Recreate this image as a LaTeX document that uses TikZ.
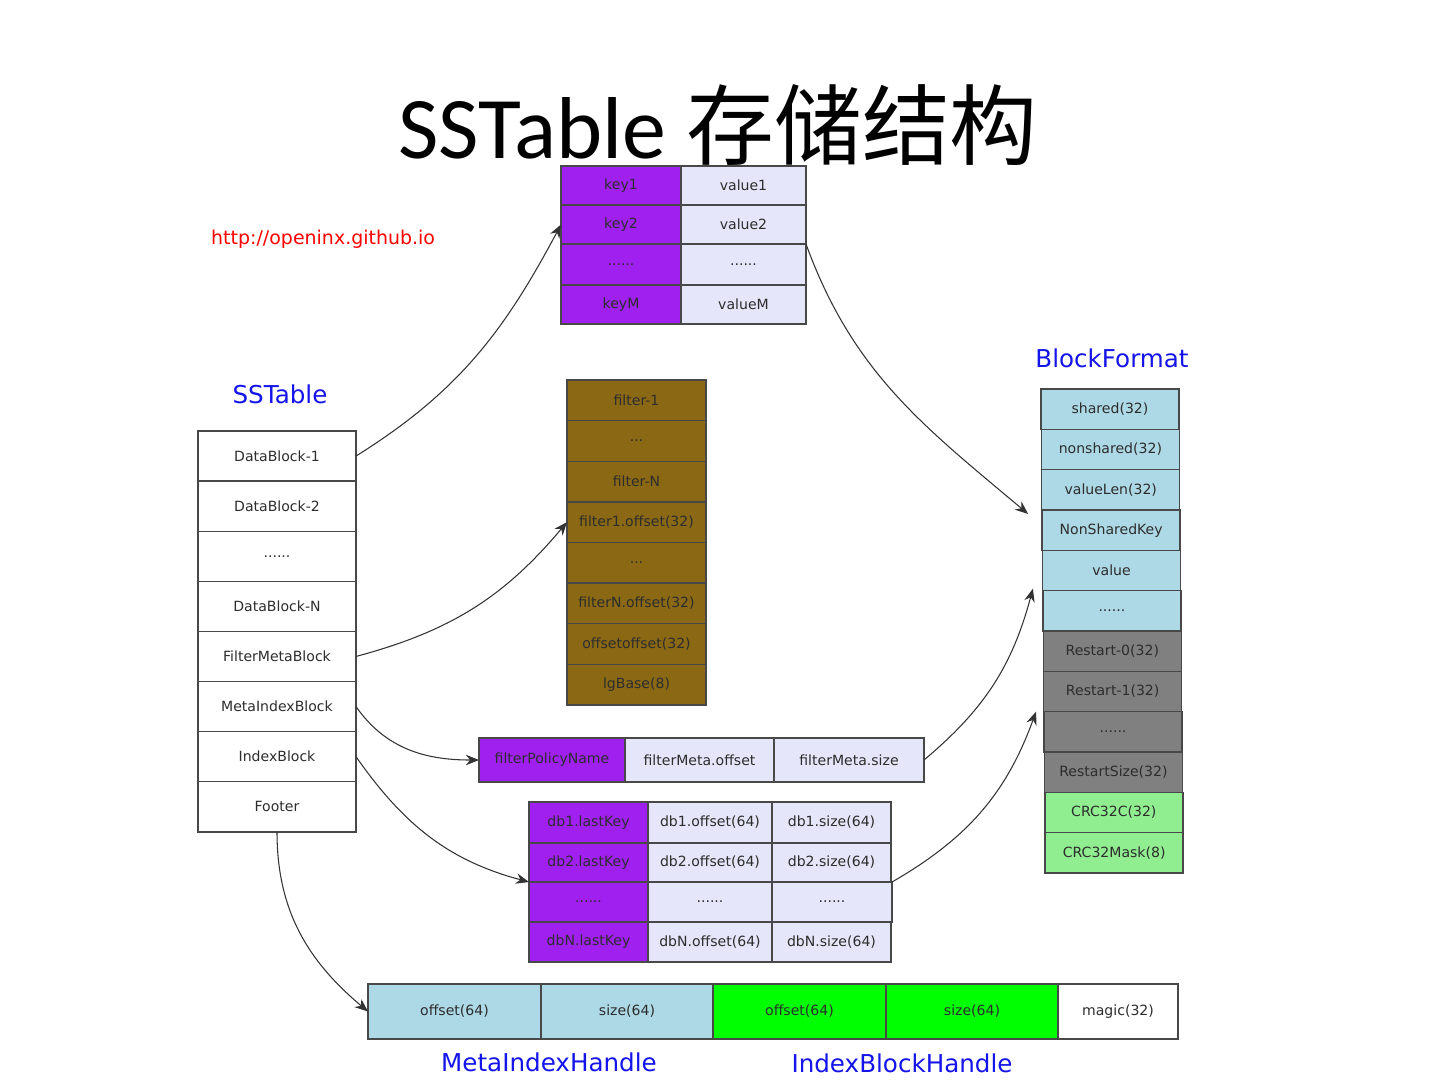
\documentclass[tikz,border=0pt]{standalone}
\usepackage{fontspec}
\setmainfont{DejaVu Sans}
\newfontfamily\titlefont{Carlito}
\newfontfamily\cjk{Noto Sans CJK SC}
\usetikzlibrary{arrows.meta,calc}
\definecolor{kpurple}{RGB}{160,32,240}
\definecolor{lav}{RGB}{230,230,250}
\definecolor{fbrown}{RGB}{139,105,20}
\definecolor{lblue}{RGB}{173,216,230}
\definecolor{rgray}{RGB}{128,128,128}
\definecolor{lgreen}{RGB}{144,238,144}
\definecolor{bgreen}{RGB}{0,255,0}
\definecolor{lblue2}{RGB}{20,20,235}
\definecolor{edge}{RGB}{72,72,72}
\definecolor{txt}{RGB}{45,45,45}
\newcommand\dthree{...}
\newcommand\dsix{......}
\newcommand\cellbox[7]{\node[cell,fill=#6,minimum width={(#4-#2)*0.02cm},minimum height={(#5-#3)*0.02cm}] (#1) at ({(#2+#4)/2},{(#3+#5)/2}) {#7};}
\begin{document}
\begin{tikzpicture}[x=0.02cm,y=-0.02cm,
  cell/.style={draw=edge,line width=0.8pt,inner sep=0pt,outer sep=0pt,text=txt,font=\fontsize{8}{9}\selectfont},
  conn/.style={draw=black!80,line width=0.6pt,-{Stealth[length=7.5pt,width=6pt]}},
  bluelabel/.style={text=lblue2,font=\fontsize{14}{16}\selectfont}]
\useasboundingbox[fill=white] (0,0) rectangle (1440,1080);
% title
\node[anchor=base,font=\titlefont\fontsize{50}{58}\selectfont] (title) at (718,158) {SSTable {\cjk 存储结构}};
\node[anchor=west,text=red,font=\fontsize{10.8}{12}\selectfont] (url) at (205,239) {http://openinx.github.io};
% key/value table
\cellbox{k1}{561}{166}{681}{205}{kpurple}{key1}
\cellbox{v1}{681}{166}{806}{205}{lav}{value1}
\cellbox{k2}{561}{205}{681}{244}{kpurple}{key2}
\cellbox{v2}{681}{205}{806}{244}{lav}{value2}
\cellbox{k3}{561}{244}{681}{285}{kpurple}{\dsix}
\cellbox{v3}{681}{244}{806}{285}{lav}{\dsix}
\cellbox{k4}{561}{285}{681}{324}{kpurple}{keyM}
\cellbox{v4}{681}{285}{806}{324}{lav}{valueM}
% SSTable column
\node[bluelabel] (sstlabel) at (280,394) {SSTable};
\foreach \t [count=\i] in {DataBlock-1,DataBlock-2,\dsix,DataBlock-N,FilterMetaBlock,MetaIndexBlock,IndexBlock,Footer}{
  \pgfmathsetmacro\ya{431+(\i-1)*50.1}
  \pgfmathsetmacro\yb{431+\i*50.1}
  \cellbox{sst\i}{198}{\ya}{356}{\yb}{white}{\t}
}
% filter block
\foreach \t [count=\i] in {filter-1,\dthree,filter-N,filter1.offset(32),\dthree,filterN.offset(32),offsetoffset(32),lgBase(8)}{
  \pgfmathsetmacro\ya{380+(\i-1)*40.6}
  \pgfmathsetmacro\yb{380+\i*40.6}
  \cellbox{f\i}{567}{\ya}{706}{\yb}{fbrown}{\t}
}
% BlockFormat
\node[bluelabel] (bflabel) at (1112,358) {BlockFormat};
\foreach \t/\c [count=\i] in {shared(32)/lblue,nonshared(32)/lblue,valueLen(32)/lblue,NonSharedKey/lblue,value/lblue,\dsix/lblue,Restart-0(32)/rgray,Restart-1(32)/rgray,\dsix/rgray,RestartSize(32)/rgray,CRC32C(32)/lgreen,CRC32Mask(8)/lgreen}{
  \pgfmathsetmacro\ya{389+(\i-1)*40.33}
  \pgfmathsetmacro\yb{389+\i*40.33}
  \pgfmathsetmacro\xa{1041+(\i-1)*0.38}
  \pgfmathsetmacro\xb{\xa+138}
  \cellbox{bf\i}{\xa}{\ya}{\xb}{\yb}{\c}{\t}
}
% filter meta row
\cellbox{fm1}{479}{738}{625}{782}{kpurple}{filterPolicyName}
\cellbox{fm2}{625}{738}{774}{782}{lav}{filterMeta.offset}
\cellbox{fm3}{774}{738}{924}{782}{lav}{filterMeta.size}
% index table
\cellbox{db1k}{529}{802}{648}{843}{kpurple}{db1.lastKey}
\cellbox{db1o}{648}{802}{772}{843}{lav}{db1.offset(64)}
\cellbox{db1s}{772}{802}{891}{843}{lav}{db1.size(64)}
\cellbox{db2k}{529}{843}{648}{882}{kpurple}{db2.lastKey}
\cellbox{db2o}{648}{843}{772}{882}{lav}{db2.offset(64)}
\cellbox{db2s}{772}{843}{891}{882}{lav}{db2.size(64)}
\cellbox{db3k}{529}{882}{648}{922}{kpurple}{\dsix}
\cellbox{db3o}{648}{882}{772}{922}{lav}{\dsix}
\cellbox{db3s}{772}{882}{892}{922}{lav}{\dsix}
\cellbox{db4k}{529}{922}{648}{962}{kpurple}{dbN.lastKey}
\cellbox{db4o}{648}{922}{772}{962}{lav}{dbN.offset(64)}
\cellbox{db4s}{772}{922}{891}{962}{lav}{dbN.size(64)}
% footer row
\cellbox{fo1}{368}{984}{541}{1039}{lblue}{offset(64)}
\cellbox{fo2}{541}{984}{713}{1039}{lblue}{size(64)}
\cellbox{fo3}{713}{984}{886}{1039}{bgreen}{offset(64)}
\cellbox{fo4}{886}{984}{1058}{1039}{bgreen}{size(64)}
\cellbox{fo5}{1058}{984}{1178}{1039}{white}{magic(32)}
\node[bluelabel] (mih) at (549,1062) {MetaIndexHandle};
\node[bluelabel] (ibh) at (902,1063) {IndexBlockHandle};
% connectors
\coordinate (t2) at ($(bf4.north west)+(-14,4)$);
\coordinate (t7) at ($(bf6.north west)+(-10,-2)$);
\coordinate (t8) at ($(bf9.north west)+(-8,0)$);
\draw[conn] (sst1.east) to[out=32,in=-118] (k2.west);
\draw[conn] (v2.south east) to[out=-70,in=140] (t2);
\draw[conn] (sst5.east) to[out=15,in=-130] (f4.west);
\draw[conn] (sst6.east) to[out=-55,in=180] (fm1.west);
\draw[conn] (sst7.east) to[out=-55,in=165] (db3k.north west);
\draw[conn] (sst8.south) to[out=-90,in=140] (fo1.west);
\draw[conn] (fm3.east) to[out=40,in=-105] (t7);
\draw[conn] (db3s.north east) to[out=30,in=-110] (t8);
\end{tikzpicture}
\end{document}
